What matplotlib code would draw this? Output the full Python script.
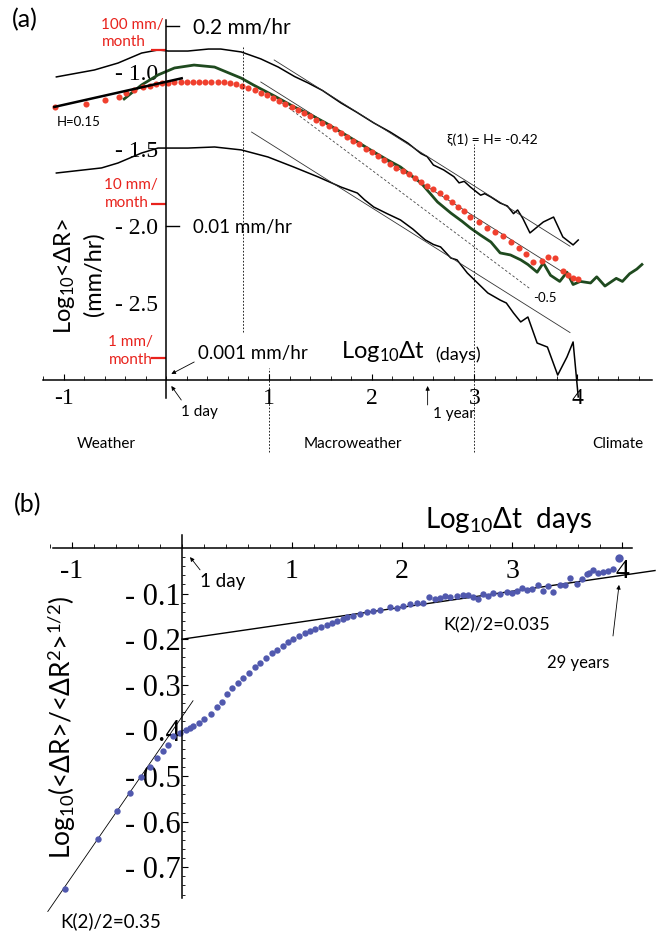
import numpy as np
import matplotlib.pyplot as plt

plt.rcParams['font.family'] = ['Lato', 'DejaVu Sans']
plt.rcParams['mathtext.fontset'] = 'custom'
plt.rcParams['mathtext.rm'] = 'Lato'
plt.rcParams['mathtext.it'] = 'Lato:italic'
plt.rcParams['mathtext.bf'] = 'Lato:bold'

serif = 'Liberation Serif'
red_txt = '#e8221c'
red_dot = '#f0402e'
green = '#1f4a1f'
blue = '#5159ae'

# ---------------- (a) log10 <dR> (mm/hr) against log10 dt (days) ----------------
top_x = [-1.07, -0.70, -0.47, -0.24, -0.08, 0.02, 0.21, 0.41, 0.53, 0.73, 0.92, 1.09,
         1.25, 1.38, 1.52, 1.70, 1.85, 2.02, 2.18, 2.35, 2.48, 2.54, 2.60, 2.70, 2.80,
         2.85, 2.90, 2.96, 3.06, 3.10, 3.16, 3.25, 3.32, 3.38, 3.42, 3.47, 3.54, 3.67,
         3.77, 3.86, 3.96, 4.01]
top_y = [-1.032, -0.987, -0.942, -0.877, -0.857, -0.864, -0.864, -0.851, -0.851, -0.870,
         -0.915, -0.968, -1.030, -1.071, -1.120, -1.201, -1.260, -1.331, -1.390, -1.461,
         -1.530, -1.550, -1.604, -1.636, -1.680, -1.720, -1.710, -1.747, -1.800, -1.790,
         -1.812, -1.851, -1.870, -1.920, -1.896, -1.950, -2.045, -1.974, -1.942, -2.071,
         -2.123, -2.091]

low_x = [-1.07, -0.63, -0.47, -0.24, -0.08, 0.02, 0.21, 0.47, 0.73, 0.99, 1.24, 1.48,
         1.70, 1.86, 1.93, 2.02, 2.15, 2.28, 2.40, 2.52, 2.60, 2.67, 2.77, 2.83, 2.93,
         3.03, 3.13, 3.25, 3.31, 3.38, 3.45, 3.52, 3.61, 3.71, 3.81, 3.90, 3.96, 4.01]
low_y = [-1.656, -1.623, -1.591, -1.526, -1.494, -1.494, -1.494, -1.487, -1.506, -1.552,
         -1.617, -1.682, -1.747, -1.786, -1.830, -1.877, -1.920, -1.961, -2.020, -2.090,
         -2.120, -2.136, -2.208, -2.220, -2.305, -2.370, -2.435, -2.481, -2.500, -2.565,
         -2.623, -2.591, -2.760, -2.786, -2.968, -2.851, -2.753, -3.110]

grn_x = [-0.41, -0.24, -0.08, 0.08, 0.27, 0.47, 0.73, 0.85, 1.05, 1.24, 1.38, 1.55, 1.70,
         1.85, 2.02, 2.15, 2.28, 2.40, 2.48, 2.57, 2.64, 2.77, 2.88, 2.96, 3.06, 3.16,
         3.25, 3.35, 3.45, 3.52, 3.61, 3.67, 3.74, 3.83, 3.90, 3.96, 4.03, 4.13, 4.19,
         4.27, 4.38, 4.44, 4.51, 4.58, 4.63]
grn_y = [-1.175, -1.084, -1.019, -0.974, -0.955, -0.968, -1.040, -1.085, -1.155, -1.225,
         -1.270, -1.330, -1.390, -1.450, -1.519, -1.570, -1.617, -1.680, -1.721, -1.790,
         -1.844, -1.916, -1.970, -2.013, -2.060, -2.104, -2.175, -2.188, -2.220, -2.250,
         -2.300, -2.240, -2.320, -2.360, -2.300, -2.380, -2.360, -2.370, -2.330, -2.390,
         -2.340, -2.360, -2.310, -2.280, -2.250]

red_x = [-1.08, -0.78, -0.60, -0.46, -0.39, -0.31, -0.23, -0.16, -0.10, -0.04, 0.02, 0.08,
         0.14, 0.20, 0.26, 0.32, 0.38, 0.44, 0.50, 0.56, 0.62, 0.68, 0.74, 0.80, 0.86,
         0.92, 0.98, 1.04, 1.10, 1.16, 1.22, 1.28, 1.34, 1.40, 1.46, 1.52, 1.58, 1.64,
         1.70, 1.76, 1.82, 1.88, 1.94, 2.00, 2.06, 2.12, 2.18, 2.24, 2.30, 2.36, 2.42,
         2.48, 2.54, 2.60, 2.66, 2.72, 2.78, 2.84, 2.90, 2.96, 3.04, 3.12, 3.20, 3.28,
         3.36, 3.43, 3.50, 3.57, 3.66, 3.72, 3.78, 3.86, 3.91, 3.96, 4.01]
red_y = [-1.227, -1.208, -1.182, -1.162, -1.136, -1.117, -1.100, -1.088, -1.080, -1.074,
         -1.070, -1.068, -1.066, -1.064, -1.063, -1.062, -1.062, -1.063, -1.065, -1.068,
         -1.073, -1.080, -1.090, -1.103, -1.118, -1.135, -1.152, -1.170, -1.190, -1.208,
         -1.225, -1.245, -1.265, -1.288, -1.310, -1.330, -1.350, -1.372, -1.398, -1.420,
         -1.445, -1.470, -1.497, -1.520, -1.545, -1.570, -1.598, -1.622, -1.643, -1.665,
         -1.690, -1.715, -1.738, -1.762, -1.786, -1.815, -1.845, -1.875, -1.905, -1.940,
         -1.975, -2.010, -2.040, -2.062, -2.105, -2.140, -2.180, -2.235, -2.230, -2.200,
         -2.210, -2.295, -2.320, -2.338, -2.344]

xi_slope = -0.42           # xi(1) = H
fits = [(1.05, 3.93, -0.922), (0.92, 3.96, -1.065), (0.83, 3.93, -1.390)]  # x0, x1, y at x0
ref_slope = -0.5
ref_line = (1.05, 3.54, -1.162)
h_small = 0.15
h_line = (-1.09, 0.15, -1.227)

month_vals = [100, 10, 1]      # mm/month
hr_vals = [0.2, 0.01]          # mm/hr

# ---------------- (b) log10(<dR>/<dR^2>^1/2) against log10 dt ----------------
rat_x = [-1.064, -0.764, -0.591, -0.473, -0.373, -0.291, -0.227, -0.173, -0.127, -0.082,
         -0.018, 0.036, 0.073, 0.100, 0.155, 0.200, 0.264, 0.318, 0.364, 0.409, 0.455,
         0.509, 0.555, 0.609, 0.664, 0.709, 0.764, 0.818, 0.864, 0.918, 0.964, 1.009,
         1.064, 1.118, 1.164, 1.209, 1.264, 1.318, 1.364, 1.409, 1.464, 1.500, 1.555,
         1.618, 1.682, 1.736, 1.800, 1.891, 1.955, 2.009, 2.073, 2.136, 2.191, 2.245,
         2.300, 2.345, 2.391, 2.436, 2.500, 2.555, 2.600, 2.645, 2.691, 2.736, 2.782,
         2.827, 2.891, 2.955, 3.000, 3.045, 3.091, 3.136, 3.182, 3.236, 3.282, 3.327,
         3.373, 3.436, 3.482, 3.527, 3.591, 3.636, 3.682, 3.700, 3.736, 3.782, 3.827,
         3.873, 3.918, 3.973]
rat_y = [-0.748, -0.638, -0.577, -0.537, -0.502, -0.480, -0.461, -0.445, -0.432, -0.412,
         -0.406, -0.399, -0.395, -0.390, -0.384, -0.375, -0.364, -0.349, -0.338, -0.320,
         -0.307, -0.296, -0.285, -0.274, -0.261, -0.252, -0.241, -0.230, -0.224, -0.215,
         -0.206, -0.200, -0.193, -0.186, -0.182, -0.178, -0.173, -0.169, -0.164, -0.160,
         -0.156, -0.151, -0.149, -0.145, -0.140, -0.138, -0.136, -0.129, -0.132, -0.127,
         -0.123, -0.121, -0.121, -0.107, -0.112, -0.110, -0.105, -0.107, -0.105, -0.103,
         -0.103, -0.107, -0.112, -0.101, -0.105, -0.099, -0.101, -0.096, -0.099, -0.094,
         -0.088, -0.092, -0.090, -0.081, -0.094, -0.083, -0.096, -0.081, -0.081, -0.066,
         -0.079, -0.068, -0.057, -0.055, -0.048, -0.055, -0.053, -0.050, -0.046, -0.022]

k_large = 0.035
k_large_line = (0.0, 4.3, -0.200)
k_small = 0.35
k_small_line = (-1.22, 0.10, -0.370)   # y given at x = 0


def seg(x0, x1, y_at, slope, x_ref=None):
    xr = x0 if x_ref is None else x_ref
    xs = np.array([x0, x1])
    return xs, y_at + slope * (xs - xr)


def arrow(ax, tip, tail):
    ax.annotate('', xy=tip, xytext=tail,
                arrowprops=dict(arrowstyle='-|>', color='black', lw=0.6, mutation_scale=6,
                                shrinkA=0, shrinkB=0))


fig = plt.figure(figsize=(6.56, 9.32), dpi=100)

# ---- panel (a) ----
ax = fig.add_axes([43 / 656, 1 - 455 / 932, 609 / 656, 440 / 932])
ax.set_xlim(-1.184, 4.728)
ax.set_ylim(-3.487, -0.630)
for s in ['top', 'right']:
    ax.spines[s].set_visible(False)
ax.spines['left'].set_position(('data', 0))
ax.spines['bottom'].set_position(('data', -3.0))
ax.spines['left'].set_bounds(-3.12, -0.66)
for s in ['left', 'bottom']:
    ax.spines[s].set_linewidth(1.1)

ax.set_xticks([-1, 1, 2, 3, 4], ['-1', '1', '2', '3', '4'], fontfamily=serif, fontsize=17)
ax.set_xticks(np.arange(-1.2, 4.7, 0.2), minor=True)
ax.tick_params(axis='x', which='major', direction='in', length=4, width=0.8, pad=6)
ax.tick_params(axis='x', which='minor', direction='in', length=3, width=0.6)
yt = [-1.0, -1.5, -2.0, -2.5]
ax.set_yticks(yt, ['- %.1f' % abs(v) for v in yt], fontfamily=serif, fontsize=17)
ax.tick_params(axis='y', length=0, pad=6)

ax.plot(top_x, top_y, color='black', lw=1.1)
ax.plot(low_x, low_y, color='black', lw=1.1)
for x0, x1, y0 in fits:
    xs, ys = seg(x0, x1, y0, xi_slope)
    ax.plot(xs, ys, color='#333333', lw=0.6)
xs, ys = seg(ref_line[0], ref_line[1], ref_line[2], ref_slope)
ax.plot(xs, ys, color='#444444', lw=0.6, ls=(0, (3, 2.5)))
ax.plot(grn_x, grn_y, color=green, lw=2.0)
ax.plot(red_x, red_y, 'o', color=red_dot, ms=4.4, mec='none')
xs, ys = seg(h_line[0], h_line[1], h_line[2], h_small)
ax.plot(xs, ys, color='black', lw=1.8)

ax.vlines(0.75, -2.69, -0.84, colors='black', lw=0.6, linestyles=(0, (2, 2)))
ax.vlines(1.0, -3.47, -2.92, colors='black', lw=0.6, linestyles=(0, (2, 2)))
ax.vlines(3.0, -3.47, -1.47, colors='black', lw=0.6, linestyles=(0, (2, 2)))

for v in month_vals:
    yv = np.log10(v / (30 * 24))
    ax.plot([-0.146, 0], [yv, yv], color=red_txt, lw=1.6, solid_capstyle='butt')
ax.text(-0.631, -0.75, '100 mm/\nmonth', color=red_txt, fontsize=11, ha='left', va='center',
        linespacing=1.3)
ax.text(-0.602, -1.792, '10 mm/\nmonth', color=red_txt, fontsize=11, ha='left', va='center',
        linespacing=1.3)
ax.text(-0.35, -2.812, '1 mm/\nmonth', color=red_txt, fontsize=11, ha='center', va='center',
        linespacing=1.3)

for v in hr_vals:
    yv = np.log10(v)
    ax.plot([0, 0.126], [yv, yv], color='black', lw=1.0)
ax.text(0.262, np.log10(0.2) - 0.01, '0.2 mm/hr', fontsize=15, ha='left', va='center')
ax.text(0.262, -2.013, '0.01 mm/hr', fontsize=13.5, ha='left', va='center')
ax.text(0.311, -2.831, '0.001 mm/hr', fontsize=13.5, ha='left', va='center')
arrow(ax, (0.049, -2.961), (0.272, -2.883))

ax.text(-1.068, -1.325, 'H=0.15', fontsize=9.5, ha='left', va='center')
ax.text(2.728, -1.442, 'ξ(1) = H= -0.42', fontsize=10, ha='left', va='center')
ax.text(3.573, -2.468, '-0.5', fontsize=9.5, ha='left', va='center')
ax.text(1.699, -2.818, r'Log$_{10}$Δt', fontsize=17, ha='left', va='center')
ax.text(2.621, -2.838, '(days)', fontsize=13, ha='left', va='center')
ax.text(0.146, -3.208, '1 day', fontsize=11, ha='left', va='center')
arrow(ax, (0.049, -3.039), (0.146, -3.13))
ax.text(2.796, -3.221, '1 year', fontsize=11, ha='center', va='center')
arrow(ax, (2.544, -3.039), (2.544, -3.162))
ax.text(-0.583, -3.416, 'Weather', fontsize=11, ha='center', va='center')
ax.text(1.816, -3.416, 'Macroweather', fontsize=11, ha='center', va='center')
ax.text(4.398, -3.416, 'Climate', fontsize=11, ha='center', va='center')

ax.text(-0.99, -2.325, r'Log$_{10}$<ΔR>', fontsize=17, rotation=90, ha='center', va='center')
ax.text(-0.709, -2.312, '(mm/hr)', fontsize=17, rotation=90, ha='center', va='center')
fig.text(25 / 656, 1 - 20 / 932, '(a)', fontsize=18, ha='center', va='center')

# ---- panel (b) ----
bx = fig.add_axes([40 / 656, 0, 616 / 656, 452 / 932])
bx.set_xlim(-1.291, 4.309)
bx.set_ylim(-0.842, 0.149)
for s in ['top', 'right']:
    bx.spines[s].set_visible(False)
bx.spines['left'].set_position(('data', 0))
bx.spines['bottom'].set_position(('data', 0))
bx.spines['left'].set_bounds(-0.7675, 0.0285)
bx.spines['bottom'].set_bounds(-1.173, 4.09)
for s in ['left', 'bottom']:
    bx.spines[s].set_linewidth(1.1)

bx.set_xticks([-1, 1, 2, 3, 4], ['-1', '1', '2', '3', '4'], fontfamily=serif, fontsize=20)
bx.set_xticks(np.arange(-1.2, 4.1, 0.2), minor=True)
bx.tick_params(axis='x', which='major', direction='in', length=4, width=0.8, pad=8)
bx.tick_params(axis='x', which='minor', direction='in', length=3, width=0.6)
ybt = [-0.1, -0.2, -0.3, -0.4, -0.5, -0.6, -0.7]
bx.set_yticks(ybt, ['- %.1f' % abs(v) for v in ybt], fontfamily=serif, fontsize=22)
bx.set_yticks(np.arange(-0.76, 0.0, 0.02), minor=True)
bx.tick_params(axis='y', which='major', direction='in', length=4, width=0.8, pad=1)
bx.tick_params(axis='y', which='minor', direction='in', length=2.5, width=0.6)

xs, ys = seg(k_large_line[0], k_large_line[1], k_large_line[2], k_large)
bx.plot(xs, ys, color='black', lw=1.0)
xs, ys = seg(k_small_line[0], k_small_line[1], k_small_line[2], k_small, x_ref=0.0)
bx.plot(xs, ys, color='black', lw=0.6)
bx.plot(rat_x[:-1], rat_y[:-1], 'o', color=blue, ms=4.6, mec='none')
bx.plot(rat_x[-1:], rat_y[-1:], 'o', color=blue, ms=6.0, mec='none')

bx.text(2.209, 0.061, r'Log$_{10}$Δt  days', fontsize=20, ha='left', va='center')
bx.text(0.164, -0.0746, '1 day', fontsize=13.5, ha='left', va='center')
arrow(bx, (0.073, -0.020), (0.164, -0.048))
bx.text(2.373, -0.169, 'K(2)/2=0.035', fontsize=13, ha='left', va='center')
bx.text(3.318, -0.252, '29 years', fontsize=12, ha='left', va='center')
arrow(bx, (3.973, -0.081), (3.918, -0.193))
bx.text(-1.109, -0.818, 'K(2)/2=0.35', fontsize=13.5, ha='left', va='center')
bx.text(-1.091, -0.393, r'Log$_{10}$(<ΔR>/<ΔR$^2$>$^{1/2}$)', fontsize=19, rotation=90,
        ha='center', va='center')
fig.text(28 / 656, 1 - 505 / 932, '(b)', fontsize=18, ha='center', va='center')

fig.savefig('out.png', dpi=100)
